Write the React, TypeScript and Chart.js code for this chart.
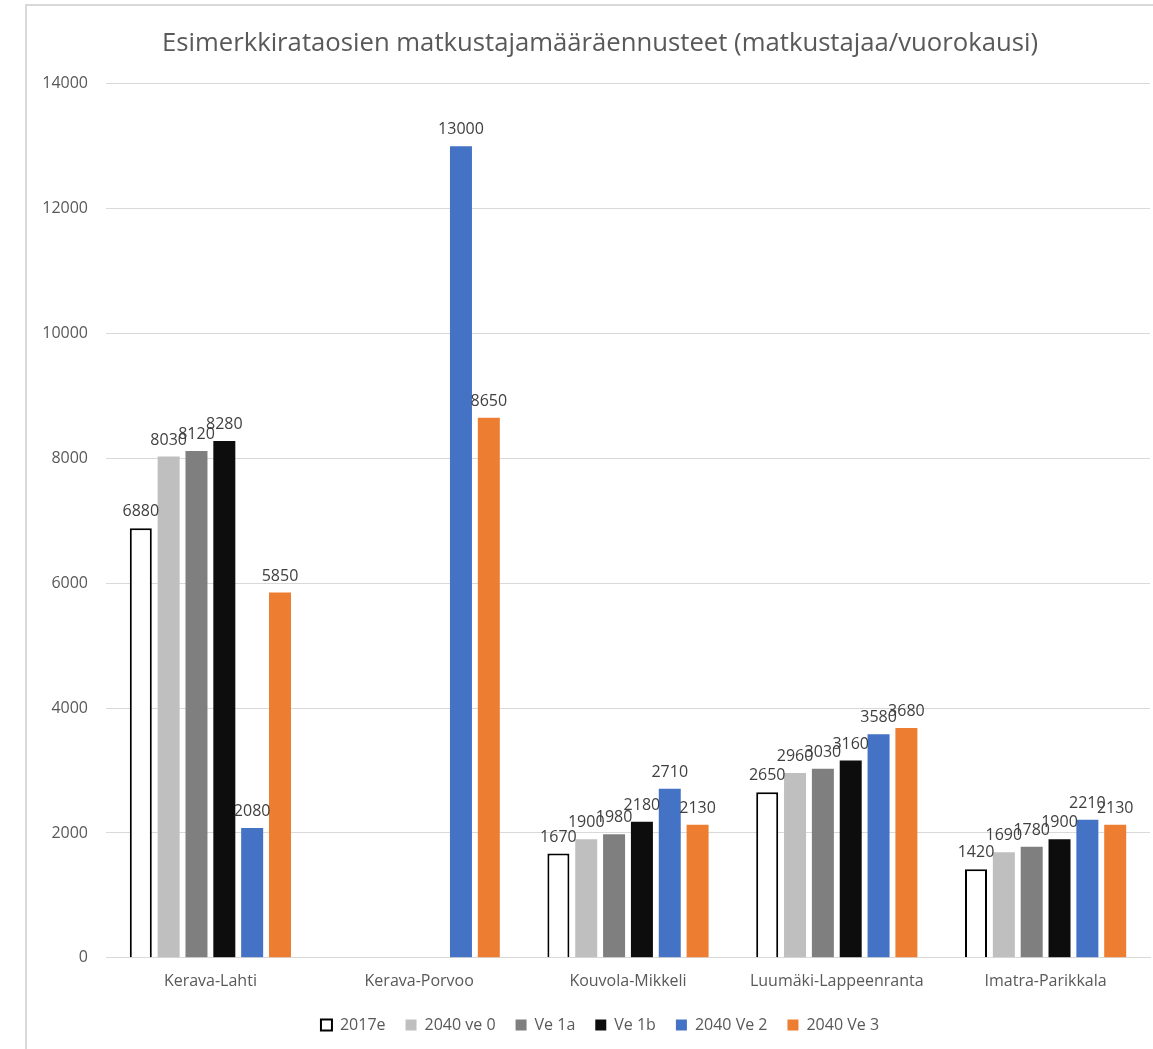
import React, { useEffect, useRef } from "react";
import { Chart, registerables } from "chart.js";

Chart.register(...registerables);

const TITLE = "Esimerkkirataosien matkustajamääräennusteet (matkustajaa/vuorokausi)";
const categories = ["Kerava-Lahti", "Kerava-Porvoo", "Kouvola-Mikkeli", "Luumäki-Lappeenranta", "Imatra-Parikkala"];
const seriesNames = ["2017e", "2040 ve 0", "Ve 1a", "Ve 1b", "2040 Ve 2", "2040 Ve 3"];
const s2017e = [6880, null, 1670, 2650, 1420];
const s2040ve0 = [8030, null, 1900, 2960, 1690];
const sVe1a = [8120, null, 1980, 3030, 1780];
const sVe1b = [8280, null, 2180, 3160, 1900];
const s2040Ve2 = [2080, 13000, 2710, 3580, 2210];
const s2040Ve3 = [5850, 8650, 2130, 3680, 2130];
const yTicks = [0, 2000, 4000, 6000, 8000, 10000, 12000, 14000];

const FONT = "'Open Sans', 'Noto Sans', sans-serif";
const TEXT = "#595959";

const labelPlugin = {
  id: "barLabels",
  afterDatasetsDraw(chart: any) {
    const ctx = chart.ctx;
    ctx.save();
    ctx.font = `16px ${FONT}`;
    ctx.fillStyle = "#404040";
    ctx.textAlign = "center";
    ctx.textBaseline = "alphabetic";
    chart.data.datasets.forEach((ds: any, i: number) => {
      const meta = chart.getDatasetMeta(i);
      meta.data.forEach((el: any, j: number) => {
        const v = ds.data[j];
        if (v === null || v === undefined) return;
        ctx.fillText(String(v), el.x, el.y - 12);
      });
    });
    ctx.restore();
  },
};

export default function App() {
  const ref = useRef<HTMLCanvasElement>(null);
  useEffect(() => {
    if (!ref.current) return;
    const values = [s2017e, s2040ve0, sVe1a, sVe1b, s2040Ve2, s2040Ve3];
    const fills = ["#ffffff", "#bfbfbf", "#7f7f7f", "#0d0d0d", "#4472c4", "#ed7d31"];
    const chart = new Chart(ref.current, {
      type: "bar",
      data: {
        labels: categories,
        datasets: seriesNames.map((name, i) => ({
          label: name,
          data: values[i],
          backgroundColor: fills[i],
          borderColor: i === 0 ? "#000000" : fills[i],
          borderWidth: i === 0 ? 2 : 0,
          categoryPercentage: 0.8,
          barPercentage: 0.79,
          yAxisID: "y",
        })),
      },
      options: {
        animation: false,
        responsive: false,
        maintainAspectRatio: false,
        layout: { padding: { left: 0, right: 8, top: 12, bottom: 8 } },
        plugins: {
          title: {
            display: true,
            text: TITLE,
            color: TEXT,
            font: { family: FONT, size: 25.7, weight: "normal" },
            padding: { top: 0, bottom: 25 },
          },
          legend: {
            position: "bottom",
            labels: {
              color: TEXT,
              font: { family: FONT, size: 16 },
              boxWidth: 11,
              boxHeight: 11,
              padding: 20,
            },
          },
          tooltip: { enabled: false },
        },
        scales: {
          x: {
            grid: { display: false },
            border: { display: true, color: "#d9d9d9" },
            ticks: { color: TEXT, font: { family: FONT, size: 16 }, padding: 6 },
          },
          y: {
            min: 0,
            max: 14000,
            afterFit: (s: any) => { s.width = 79; },
            afterBuildTicks: (s: any) => { s.ticks = yTicks.map((v) => ({ value: v })); },
            grid: { color: "#d9d9d9", drawTicks: false },
            border: { display: false },
            ticks: {
              color: TEXT,
              font: { family: FONT, size: 16 },
              padding: 18,
              callback: (v: any) => String(v),
            },
          },
          yRightSpace: {
            position: "right",
            min: 0,
            max: 14000,
            grid: { display: false, drawTicks: false },
            border: { display: false },
            ticks: { display: false },
            afterFit: (s: any) => { s.width = 23; },
          },
        },
      },
      plugins: [labelPlugin],
    });
    return () => chart.destroy();
  }, []);
  return (
    <div style={{ position: "fixed", inset: 0, overflow: "hidden", background: "#fff" }}>
      <div
        style={{
          position: "absolute",
          left: 25,
          top: 4,
          width: 1180,
          height: 1100,
          border: "2px solid #d9d9d9",
          boxSizing: "border-box",
        }}
      >
        <canvas ref={ref} width={1154} height={1035} style={{ position: "absolute", left: 0, top: 10 }} />
      </div>
    </div>
  );
}
